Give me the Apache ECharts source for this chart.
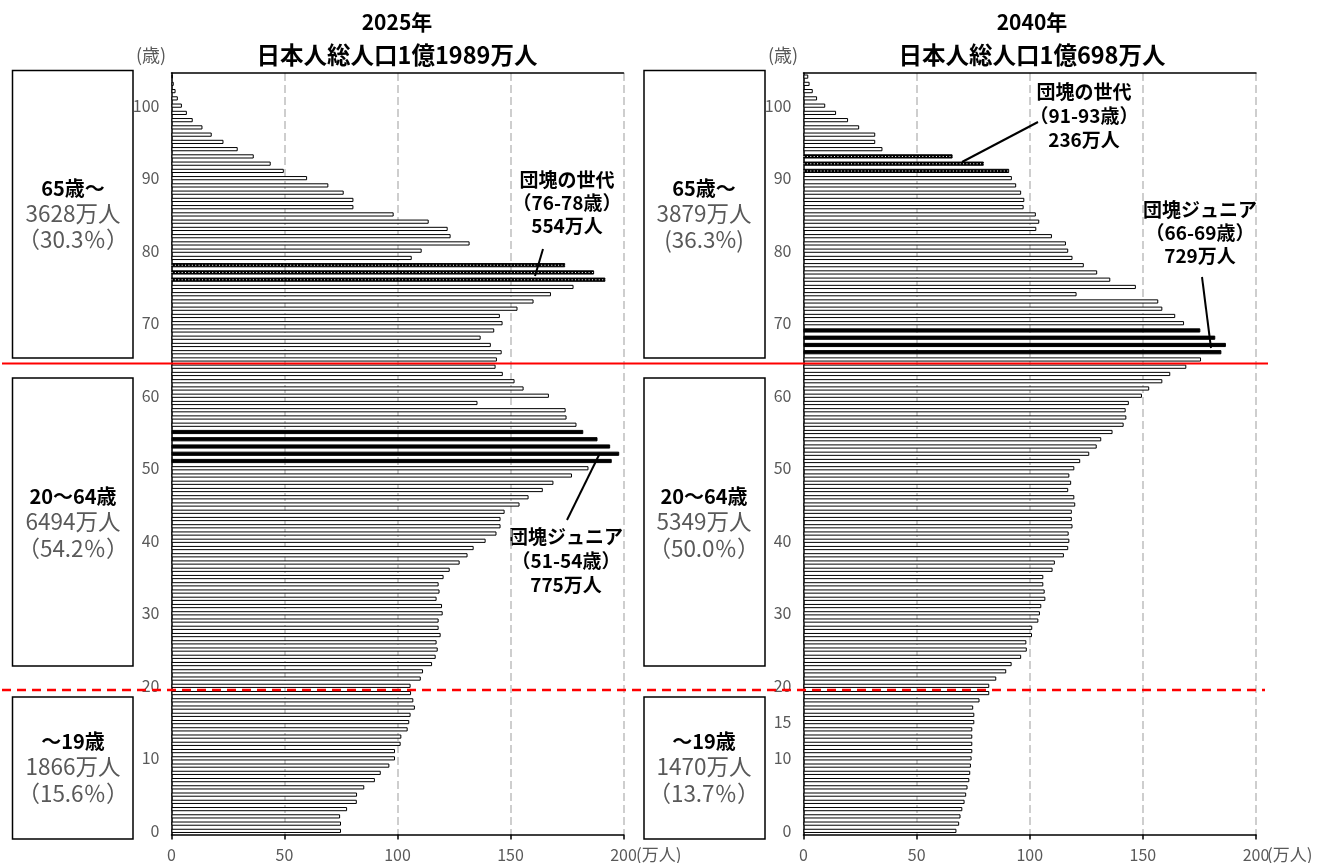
<!DOCTYPE html>
<html><head><meta charset="utf-8">
<script src="https://cdn.jsdelivr.net/npm/echarts@6/dist/echarts.min.js"></script>
<style>html,body{margin:0;padding:0;background:#fff}#c{width:1326px;height:863px}</style>
</head><body><div id="c"></div>
<script>
// ---- data ----
const ages = Array.from({length:105},(_,i)=>String(i));
const pop2025 = [75.0,75.0,74.6,77.7,82.0,82.1,85.3,90.0,92.6,96.4,
  98.9,98.9,101.4,101.7,104.5,105.2,105.8,107.7,107.0,106.0,
  105.8,110.3,111.3,115.3,116.9,117.8,117.3,119.1,118.2,118.2,
  120.0,119.7,117.3,118.6,118.2,120.4,123.1,127.5,131.0,133.7,
  139.0,143.8,145.6,145.6,147.4,154.0,158.0,164.3,169.0,177.2,
  184.5,194.8,198.1,194.1,188.5,182.2,179.2,174.8,174.4,135.4,
  167.0,155.8,151.8,146.6,143.4,144.0,146.1,141.3,136.8,142.8,
  146.5,145.3,153.1,160.2,167.9,177.9,192.0,187.0,174.2,106.3,
  110.7,131.9,123.5,122.2,113.8,98.3,80.5,80.5,76.2,69.4,
  60.0,49.7,43.9,36.4,29.3,23.0,17.8,13.7,9.4,6.8,
  4.6,2.8,1.8,1.0,0.6];
const pop2040 = [67.6,68.8,69.4,70.2,71.2,71.9,72.5,73.3,73.7,74.0,
  74.3,74.6,74.6,74.6,74.6,75.5,75.5,75.0,77.8,82.1,
  82.1,85.2,89.6,92.0,96.2,98.7,98.5,101.0,101.1,103.8,
  104.5,105.1,106.9,106.6,106.0,106.0,110.1,111.1,115.1,117.0,
  117.5,117.2,118.9,118.6,118.6,120.1,119.7,117.0,118.3,117.5,
  119.7,122.3,126.3,129.6,131.6,136.6,141.5,142.7,142.4,143.8,
  149.6,152.8,158.6,162.1,169.2,175.7,184.7,186.7,182.0,175.4,
  168.2,164.3,158.6,156.8,120.7,146.9,135.6,129.8,123.9,118.9,
  117.0,116.0,109.8,102.9,104.2,102.7,97.3,97.6,96.2,94.0,
  92.1,90.9,79.7,65.9,34.9,31.7,31.7,24.6,19.7,14.4,
  9.6,6.0,4.1,2.7,2.1];
const black2025 = [51,52,53,54,55];
const dotted2025 = [76,77,78];
const black2040 = [66,67,68,69];
const dotted2040 = [91,92,93];
const xTicks = [0,50,100,150,200];

function buildData(vals, blacks, dots){
  return vals.map((v,i)=>{
    if (blacks.includes(i) || dots.includes(i)) return {value:v,itemStyle:{color:'#000',borderColor:'#000'}};
    return v;
  });
}
function dotData(vals, dots){
  return vals.map((v,i)=> dots.includes(i) ? v : '-');
}

const FONT = '"Noto Sans CJK JP","Noto Sans",sans-serif';
const GRAY = '#595959';
const grids = [
  {left:171.5, top:73, width:452, height:761.5},
  {left:803.5, top:73, width:452.5, height:761.5}
];
function xBottom(gi){
  return {type:'value', gridIndex:gi, min:xTicks[0], max:xTicks[xTicks.length-1], interval:xTicks[1]-xTicks[0],
    axisLine:{show:true,lineStyle:{color:'#000',width:1.5}},
    axisTick:{show:true,length:5,lineStyle:{color:'#000',width:1.5}},
    axisLabel:{color:GRAY,fontSize:16,fontFamily:FONT,margin:12},
    splitLine:{show:true,lineStyle:{color:'#bfbfbf',width:1.5,type:[8,4]}}};
}
function xTop(gi){
  return {type:'value', gridIndex:gi, position:'top', min:0, max:200, interval:50,
    axisLine:{show:true,lineStyle:{color:'#000',width:1.5}},
    axisTick:{show:false},axisLabel:{show:false},splitLine:{show:false}};
}
function yAx(gi, extra){
  return {type:'category', gridIndex:gi, data:ages,
    axisLine:{show:true,lineStyle:{color:'#000',width:1.5}},
    axisTick:{show:false},
    axisLabel:{color:GRAY,fontSize:16,fontFamily:FONT,margin:12,
      interval:(idx)=> idx%10===0 || extra.includes(idx)},
    splitLine:{show:false}};
}
function barSeries(gi, data){
  return {type:'bar', xAxisIndex:gi*2, yAxisIndex:gi, data:data, barWidth:4.2,
    silent:true, animation:false,
    itemStyle:{color:'#fff',borderColor:'#000',borderWidth:1}};
}
function dotSeries(gi, data){
  return {type:'pictorialBar', xAxisIndex:gi*2, yAxisIndex:gi, data:data,
    symbol:'rect', symbolSize:[1,1], symbolRepeat:true, symbolMargin:1.2,
    symbolOffset:[0,0], silent:true, animation:false, z:5,
    itemStyle:{color:'#fff'}};
}

function txt(x,y,s,opt){
  return Object.assign({type:'text', x:x, y:y, silent:true,
    style:Object.assign({text:s, fill:'#000', font:'17px '+FONT, align:'center', verticalAlign:'middle'}, opt||{})});
}
function bold(x,y,s,sz){ return txt(x,y,s,{font:'bold '+(sz||19)+'px '+FONT}); }
function num(x,y,s){ return txt(x,y,s,{font:'22.5px '+FONT, fill:GRAY}); }
function rect(x,y,w,h){ return {type:'rect', shape:{x:x,y:y,width:w,height:h}, silent:true,
  style:{fill:'#fff',stroke:'#000',lineWidth:1.5}}; }
function line(x1,y1,x2,y2,st){ return {type:'line', silent:true, shape:{x1:x1,y1:y1,x2:x2,y2:y2},
  style:Object.assign({stroke:'#000',lineWidth:2},st||{}), z:100}; }

const graphics = [
  // titles
  txt(397,22,'2025年',{font:'bold 21px '+FONT}),
  txt(397,55,'日本人総人口1億1989万人',{font:'bold 23.5px '+FONT}),
  txt(1032,22,'2040年',{font:'bold 21px '+FONT}),
  txt(1032,55,'日本人総人口1億698万人',{font:'bold 23.5px '+FONT}),
  txt(151,55,'(歳)',{fill:GRAY,font:'18px '+FONT}),
  txt(783,55,'(歳)',{fill:GRAY,font:'18px '+FONT}),
  txt(636,855,'(万人)',{fill:GRAY,font:'17px '+FONT,align:'left'}),
  txt(1267,855,'(万人)',{fill:GRAY,font:'17px '+FONT,align:'left'}),
  // boxes
  rect(12.5,70.5,120.5,287.5), rect(12.5,378,120.5,288), rect(12.5,697,120.5,142),
  rect(644,70.5,121,287.5), rect(644,378,121,288), rect(644,697,121,142),
  bold(73,188,'65歳〜',20), num(73,213,'3628万人'), num(73,239,'（30.3％）'),
  bold(73,496,'20〜64歳',20), num(73,521,'6494万人'), num(73,548,'（54.2％）'),
  bold(73,741,'〜19歳',20), num(73,766,'1866万人'), num(73,793,'（15.6％）'),
  bold(704,188,'65歳〜',20), num(704,213,'3879万人'), num(704,239,'(36.3%)'),
  bold(704,496,'20〜64歳',20), num(704,521,'5349万人'), num(704,548,'（50.0％）'),
  bold(704,741,'〜19歳',20), num(704,766,'1470万人'), num(704,793,'（13.7％）'),
  // annotations
  bold(567,180,'団塊の世代'), bold(567,203,'（76-78歳）'), bold(567,226,'554万人'),
  line(543,249,535,276),
  bold(566,537,'団塊ジュニア'), bold(566,561,'（51-54歳）'), bold(566,585,'775万人'),
  line(600,453,567,520),
  bold(1084,92,'団塊の世代'), bold(1084,116,'（91-93歳）'), bold(1084,140,'236万人'),
  line(1038,122,962,162),
  bold(1200,210,'団塊ジュニア'), bold(1200,233,'（66-69歳）'), bold(1200,256,'729万人'),
  line(1202,277,1211,348),
  // age boundaries
  line(2,363.5,1268,363.5,{stroke:'#ff0000',lineWidth:2}),
  line(2,690,1265,690,{stroke:'#ff0000',lineWidth:2.5,lineDash:[9,6]})
];

const chart = echarts.init(document.getElementById('c'), null, {renderer:'canvas'});
chart.setOption({
  animation:false,
  backgroundColor:'#fff',
  textStyle:{fontFamily:FONT},
  grid:grids,
  xAxis:[xBottom(0), xTop(0), xBottom(1), xTop(1)],
  yAxis:[yAx(0,[]), yAx(1,[15])],
  series:[
    barSeries(0, buildData(pop2025, black2025, dotted2025)),
    dotSeries(0, dotData(pop2025, dotted2025)),
    barSeries(1, buildData(pop2040, black2040, dotted2040)),
    dotSeries(1, dotData(pop2040, dotted2040))
  ],
  graphic:graphics
});
</script></body></html>
